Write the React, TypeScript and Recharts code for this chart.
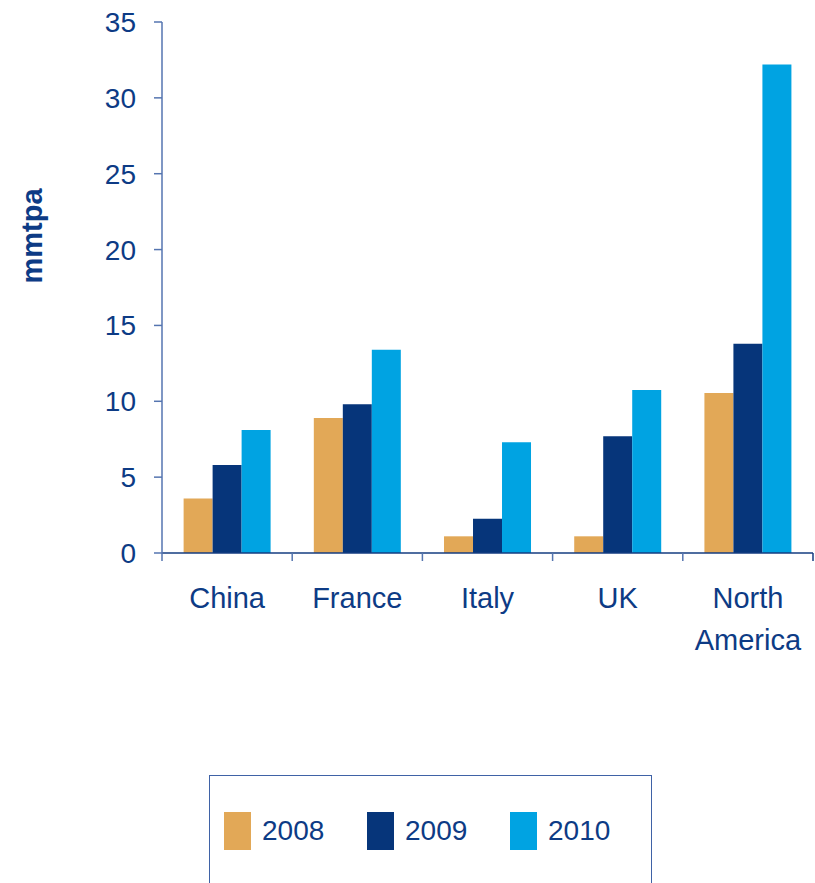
import { BarChart, Bar, XAxis, YAxis, Legend } from 'recharts';

// Datos (mmtpa)
const regiones = ['China', 'France', 'Italy', 'UK', 'North America'];
const anios = ['2008', '2009', '2010'];
const valores2008 = [3.6, 8.9, 1.1, 1.1, 10.55];
const valores2009 = [5.8, 9.8, 2.25, 7.7, 13.8];
const valores2010 = [8.1, 13.4, 7.3, 10.75, 32.2];
const ticksY = [0, 5, 10, 15, 20, 25, 30, 35];

const colores = ['#E2A857', '#06357A', '#00A3E2'];
const azulTexto = '#0D3B85';
const fuente = '"Liberation Sans", Arial, sans-serif';

const datos = regiones.map((region, i) => ({
  region,
  '2008': valores2008[i],
  '2009': valores2009[i],
  '2010': valores2010[i],
}));

function TickRegion(props: any) {
  const { x, y, payload, index } = props;
  const mitad = payload?.offset ?? 65.1;
  const lineas = String(payload.value).split(' ');
  return (
    <g>
      <line x1={x - mitad} y1={y} x2={x - mitad} y2={y + 8} stroke="#5575B0" strokeWidth={1.5} />
      {index === regiones.length - 1 && (
        <line x1={x + mitad} y1={y} x2={x + mitad} y2={y + 8} stroke="#143C80" strokeWidth={1.5} />
      )}
      <text x={x} y={y + 55} textAnchor="middle" fill={azulTexto} fontSize={29} fontFamily={fuente}>
        {lineas.map((l, i) => (
          <tspan key={l} x={x} dy={i === 0 ? 0 : 42}>
            {l}
          </tspan>
        ))}
      </text>
    </g>
  );
}

function Leyenda() {
  return (
    <div
      style={{
        boxSizing: 'border-box',
        width: 443,
        height: 130,
        border: '1px solid #3F62A6',
        position: 'relative',
        fontFamily: fuente,
      }}
    >
      {anios.map((anio, i) => (
        <div
          key={anio}
          style={{
            position: 'absolute',
            left: 14 + i * 143,
            top: 36,
            display: 'flex',
            alignItems: 'center',
          }}
        >
          <div style={{ width: 27, height: 38, background: colores[i] }} />
          <span style={{ marginLeft: 11, fontSize: 28, color: azulTexto, lineHeight: '38px' }}>
            {anio}
          </span>
        </div>
      ))}
    </div>
  );
}

export default function App() {
  return (
    <div style={{ position: 'absolute', left: 0, top: 0, background: '#fff' }}>
      <BarChart
        width={815}
        height={883}
        data={datos}
        margin={{ top: 22, right: 2, bottom: 230, left: 0 }}
        barCategoryGap="16.6%"
        barGap={0}
      >
        <XAxis
          dataKey="region"
          interval={0}
          height={100}
          tickSize={0}
          tickMargin={0}
          tickLine={false}
          axisLine={{ stroke: '#143C80', strokeWidth: 1.5 }}
          tick={<TickRegion />}
        />
        <YAxis
          width={162}
          domain={[0, 35]}
          ticks={ticksY}
          interval={0}
          tickSize={8}
          tickMargin={18}
          axisLine={{ stroke: '#5575B0', strokeWidth: 1.5 }}
          tickLine={{ stroke: '#5575B0', strokeWidth: 1.5 }}
          tick={{ fill: azulTexto, fontSize: 28, fontFamily: fuente }}
          label={() => (
            <text
              x={32}
              y={236}
              transform="rotate(-90, 32, 236)"
              textAnchor="middle"
              dominantBaseline="central"
              fill={azulTexto}
              fontSize={29}
              fontWeight="bold"
              fontFamily={fuente}
            >
              mmtpa
            </text>
          )}
        />
        <Legend
          layout="horizontal"
          align="center"
          verticalAlign="middle"
          content={() => <Leyenda />}
          wrapperStyle={{ left: 209, top: 775, width: 443, height: 130 }}
        />
        {anios.map((anio, i) => (
          <Bar key={anio} dataKey={anio} fill={colores[i]} isAnimationActive={false} />
        ))}
      </BarChart>
    </div>
  );
}
